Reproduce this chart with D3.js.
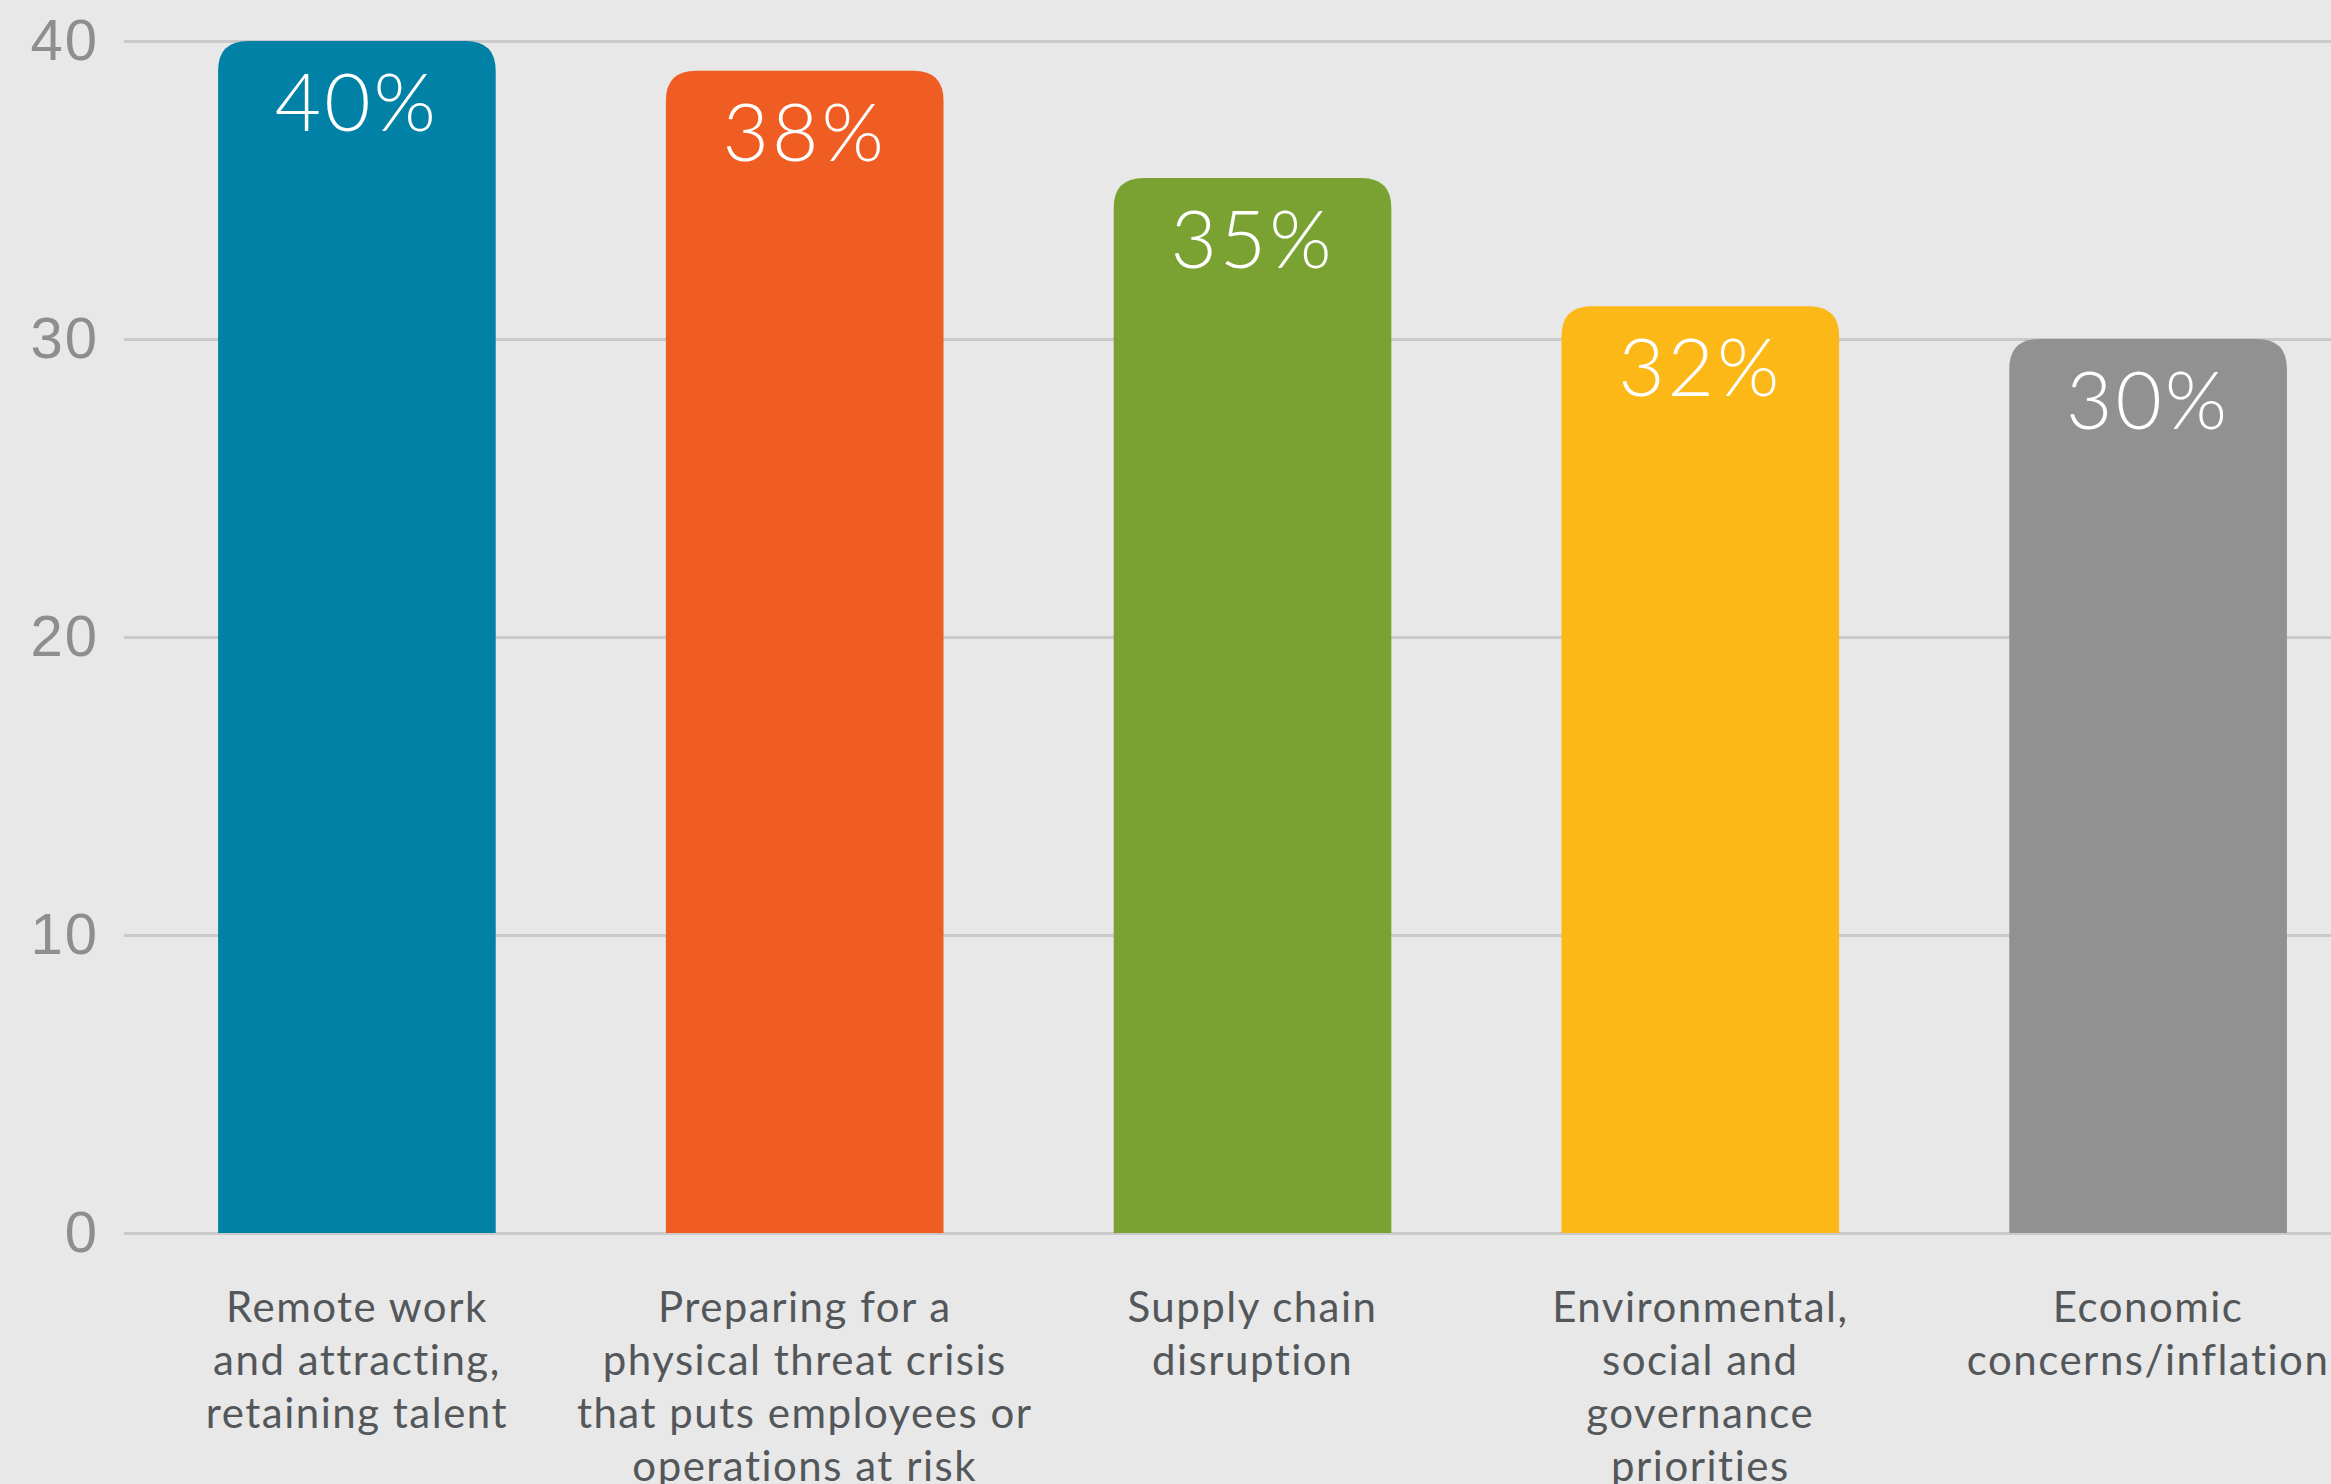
<!DOCTYPE html>
<meta charset="utf-8">
<style>

body {
  margin: 0;
  background: #e8e8e8;
}

svg {
  display: block;
  font-family: Lato, "Open Sans", sans-serif;
}

.grid line {
  stroke: #cacaca;
  stroke-width: 3;
}

.grid text {
  fill: #8e8e8e;
  font-size: 58px;
  font-weight: 300;
  letter-spacing: 2px;
}

.value {
  fill: #fff;
  font-size: 80px;
  font-weight: 300;
  letter-spacing: 3px;
}

.cat {
  fill: #53575a;
  font-size: 42px;
  letter-spacing: 1.5px;
}

</style>
<svg width="2331" height="1484"></svg>
<script src="https://d3js.org/d3.v7.min.js"></script>
<script>

var categories = [
  ["Remote work", "and attracting,", "retaining talent"],
  ["Preparing for a", "physical threat crisis", "that puts employees or", "operations at risk"],
  ["Supply chain", "disruption"],
  ["Environmental,", "social and", "governance", "priorities"],
  ["Economic", "concerns/inflation"]
];
var values = [40, 39, 35.4, 31.1, 30];
var valueLabels = ["40%", "38%", "35%", "32%", "30%"];
var colors = ["#0281a7", "#f05d23", "#79a232", "#fcb816", "#919192"];
var yTicks = [0, 10, 20, 30, 40];

var svg = d3.select("svg"),
    width = +svg.attr("width"),
    height = +svg.attr("height");

var x = d3.scaleBand()
    .domain(d3.range(values.length))
    .range([133, 2372])
    .paddingInner(0.38)
    .paddingOuter(0.19);

var y = d3.scaleLinear()
    .domain([0, 40])
    .range([1233, 41]);

svg.append("g")
    .attr("class", "grid")
    .attr("transform", "translate(124,0)")
    .call(d3.axisLeft(y).tickValues(yTicks).tickSize(-(width - 124)).tickPadding(25))
    .call(function(g) { g.select(".domain").remove(); })
    .call(function(g) { g.selectAll("text").attr("font-family", null).attr("font-size", null).attr("fill", null); });

// bars with rounded top corners only
function barPath(x0, y0, w, h, r) {
  return "M" + x0 + "," + (y0 + h) +
      "V" + (y0 + r) +
      "Q" + x0 + "," + y0 + " " + (x0 + r) + "," + y0 +
      "H" + (x0 + w - r) +
      "Q" + (x0 + w) + "," + y0 + " " + (x0 + w) + "," + (y0 + r) +
      "V" + (y0 + h) + "Z";
}

svg.append("g")
  .selectAll("path")
  .data(values)
  .enter().append("path")
    .attr("fill", function(d, i) { return colors[i]; })
    .attr("d", function(d, i) {
      return barPath(x(i), y(d), x.bandwidth(), y(0) - y(d), 30);
    });

svg.append("g")
  .selectAll("text")
  .data(values)
  .enter().append("text")
    .attr("class", "value")
    .attr("text-anchor", "middle")
    .attr("x", function(d, i) { return x(i) + x.bandwidth() / 2; })
    .attr("y", function(d) { return y(d) + 90; })
    .text(function(d, i) { return valueLabels[i]; });

var cat = svg.append("g")
  .selectAll("text")
  .data(categories)
  .enter().append("text")
    .attr("class", "cat")
    .attr("text-anchor", "middle")
    .attr("x", function(d, i) { return x(i) + x.bandwidth() / 2; })
    .attr("y", 1322);

cat.selectAll("tspan")
  .data(function(d) { return d; })
  .enter().append("tspan")
    .attr("x", function() { return this.parentNode.getAttribute("x"); })
    .attr("dy", function(d, i) { return i ? 53 : 0; })
    .text(function(d) { return d; });

</script>
